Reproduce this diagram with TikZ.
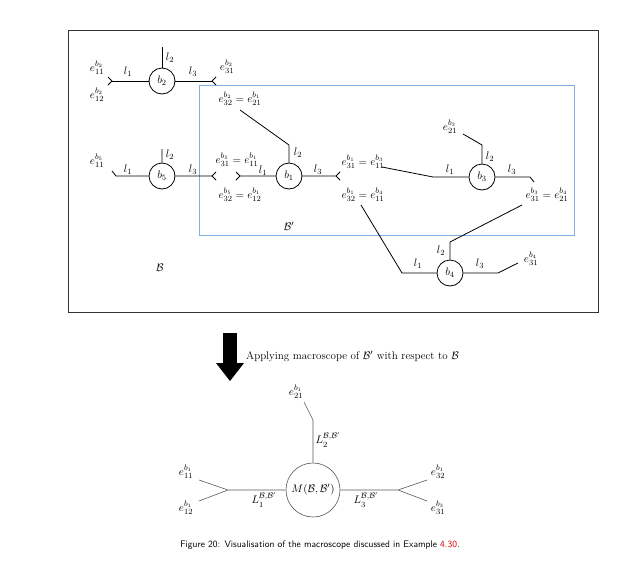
\documentclass[tikz,border=0pt]{standalone}
\usepackage{amsmath}
\begin{document}
\begin{tikzpicture}[x=1pt,y=-1pt,
  blk/.style={circle,draw,line width=0.8pt,minimum size=26pt,inner sep=0pt,font=\fontsize{11}{13}\selectfont},
  ln/.style={line width=0.8pt},
  gl/.style={draw=black!65,line width=0.6pt},
  lb/.style={font=\fontsize{11}{13}\selectfont,inner sep=0pt}]
\useasboundingbox (0,0) rectangle (631,560);
\draw[line width=0.9pt,black!80] (68,30) rectangle (598,312);
\draw[line width=0.8pt,cyan!60!blue!50] (199,85) rectangle (574,235);
% b2
\node[blk] (b2) at (162,81) {$b_2$};
\coordinate (b2l) at (112,81); \coordinate (b2r) at (212,81); \coordinate (b2t) at (162,47);
\draw[ln] (b2l) -- (b2.west) (b2.east) -- (b2r) (b2.north) -- (b2t);
\draw[ln] (b2l) -- ++(-4,-4) (b2l) -- ++(-4,4) (b2r) -- ++(4,-4) (b2r) -- ++(4,4);
\node[lb] at (97,68) {$e^{b_2}_{11}$};
\node[lb] at (97,95) {$e^{b_2}_{12}$};
\node[lb] at (227,67) {$e^{b_2}_{31}$};
\node[lb] at (128,72) {$l_1$}; \node[lb] at (170,58) {$l_2$}; \node[lb] at (193,72) {$l_3$};
% b5
\node[blk] (b5) at (162,176) {$b_5$};
\coordinate (b5l) at (116,176); \coordinate (b5r) at (212,176); \coordinate (b5t) at (162,149);
\draw[ln] (112,171) -- (b5l) -- (b5.west) (b5.east) -- (b5r) (b5.north) -- (b5t);
\draw[ln] (b5r) -- ++(4,-4) (b5r) -- ++(4,4);
\node[lb] at (97,161) {$e^{b_5}_{11}$};
\node[lb] at (128,170) {$l_1$}; \node[lb] at (170,155) {$l_2$}; \node[lb] at (193,170) {$l_3$};
% b1
\node[blk] (b1) at (289,176) {$b_1$};
\coordinate (b1l) at (240,176); \coordinate (b1r) at (336,176);
\coordinate (b1t) at (289,145); \coordinate (b1u) at (240,110);
\draw[ln] (b1l) -- (b1.west) (b1.east) -- (b1r) (b1.north) -- (b1t) -- (b1u);
\draw[ln] (b1l) -- ++(-4,-4) (b1l) -- ++(-4,4) (b1r) -- ++(4,-4) (b1r) -- ++(4,4);
\node[lb] at (240,99) {$e^{b_2}_{32}=e^{b_1}_{21}$};
\node[lb] at (237,160) {$e^{b_5}_{31}=e^{b_1}_{11}$};
\node[lb] at (240,195) {$e^{b_5}_{32}=e^{b_1}_{12}$};
\node[lb] at (263,171) {$l_1$}; \node[lb] at (298,153) {$l_2$}; \node[lb] at (318,170) {$l_3$};
\node[lb] at (363,162) {$e^{b_1}_{31}=e^{b_3}_{11}$};
\node[lb] at (363,195) {$e^{b_1}_{32}=e^{b_4}_{11}$};
% b3
\node[blk] (b3) at (482,177) {$b_3$};
\coordinate (b3a) at (382,167); \coordinate (b3b) at (433,177);
\coordinate (b3t) at (482,145); \coordinate (b3u) at (463,134);
\coordinate (b3c) at (530,177); \coordinate (b3d) at (534,182);
\draw[ln] (b3a) -- (b3b) -- (b3.west) (b3.north) -- (b3t) -- (b3u) (b3.east) -- (b3c) -- (b3d);
\node[lb] at (450,127) {$e^{b_3}_{21}$};
\node[lb] at (450,170) {$l_1$}; \node[lb] at (490,157) {$l_2$}; \node[lb] at (512,170) {$l_3$};
\node[lb] at (547,195) {$e^{b_3}_{31}=e^{b_4}_{21}$};
% b4
\node[blk] (b4) at (450,273) {$b_4$};
\coordinate (b4a) at (402,273); \coordinate (b4b) at (361,205);
\coordinate (b4t) at (450,242); \coordinate (b4u) at (522,205);
\coordinate (b4c) at (498,273); \coordinate (b4d) at (518,263);
\draw[ln] (b4.west) -- (b4a) -- (b4b) (b4.north) -- (b4t) -- (b4u) (b4.east) -- (b4c) -- (b4d);
\node[lb] at (531,259) {$e^{b_4}_{31}$};
\node[lb] at (418,264) {$l_1$}; \node[lb] at (441,251) {$l_2$}; \node[lb] at (480,264) {$l_3$};
\node[lb] at (289,226) {$\mathcal{B}'$};
\node[lb] at (160,268) {$\mathcal{B}$};
% arrow
\fill (223,333) rectangle (237,363);
\fill (216,363) -- (244,363) -- (230,381) -- cycle;
\node[lb,anchor=west] at (246,356) {Applying macroscope of $\mathcal{B}'$ with respect to $\mathcal{B}$};
% bottom
\node[circle,draw=black!65,line width=0.6pt,minimum size=54pt,inner sep=0pt,font=\fontsize{11}{13}\selectfont] (M) at (313,490) {$M(\mathcal{B},\mathcal{B}')$};
\coordinate (ml) at (228,490); \coordinate (mr) at (398,490);
\coordinate (mt) at (313,420); \coordinate (mu) at (304,402);
\coordinate (la) at (199,480); \coordinate (lbb) at (199,501);
\coordinate (ra) at (427,480); \coordinate (rb) at (427,501);
\draw[gl] (M.west) -- (ml) (ml) -- (la) (ml) -- (lbb);
\draw[gl] (M.east) -- (mr) (mr) -- (ra) (mr) -- (rb);
\draw[gl] (M.north) -- (mt) -- (mu);
\node[lb] at (186,472) {$e^{b_1}_{11}$};
\node[lb] at (186,508) {$e^{b_1}_{12}$};
\node[lb] at (296,392) {$e^{b_1}_{21}$};
\node[lb] at (438,472) {$e^{b_1}_{32}$};
\node[lb] at (438,508) {$e^{b_3}_{31}$};
\node[lb] at (264,500) {$L^{\mathcal{B},\mathcal{B}'}_1$};
\node[lb] at (328,440) {$L^{\mathcal{B},\mathcal{B}'}_2$};
\node[lb] at (366,500) {$L^{\mathcal{B},\mathcal{B}'}_3$};
\node[font=\sffamily\fontsize{9.5}{11}\selectfont] at (320,545) {Figure 20: Visualisation of the macroscope discussed in Example \textcolor{red!85!black}{4.30}.};
\end{tikzpicture}
\end{document}
